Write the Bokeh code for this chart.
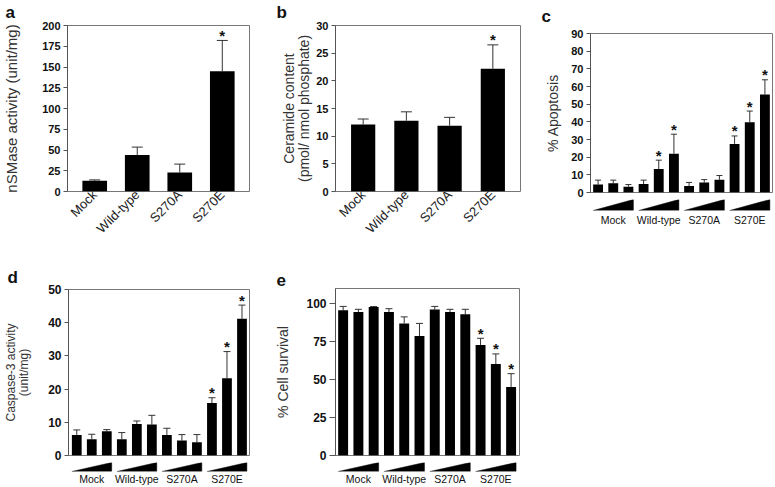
import math
from bokeh.plotting import figure
from bokeh.layouts import row, column
from bokeh.models import (ColumnDataSource, Whisker, TeeHead, FixedTicker, Range1d, FactorRange)
from bokeh.embed import file_html
from bokeh.resources import INLINE
from bokeh.core.properties import value

FONT = "Liberation Sans"

categories = ["Mock", "Wild-type", "S270A", "S270E"]
doses = ["low", "mid", "high"]

# (a) nSMase activity (unit/mg)
nsmase_mean = [13, 44, 23, 145]
nsmase_err = [1, 9.5, 10, 37]
nsmase_sig = [0, 0, 0, 1]

# (b) Ceramide content (pmol/nmol phosphate)
ceramide_mean = [12.1, 12.8, 11.9, 22.2]
ceramide_err = [1.0, 1.6, 1.5, 4.3]
ceramide_sig = [0, 0, 0, 1]

# (c) % Apoptosis, three increasing doses per group
apoptosis_mean = [4.5, 5.2, 3.3, 4.8, 13.3, 22.0, 3.7, 5.6, 7.2, 27.5, 39.8, 55.5]
apoptosis_err = [2.5, 1.8, 1.2, 2.2, 5.0, 11.0, 2.0, 1.7, 2.4, 4.5, 6.3, 8.3]
apoptosis_sig = [0, 0, 0, 0, 1, 1, 0, 0, 0, 1, 1, 1]

# (d) Caspase-3 activity (unit/mg)
caspase_mean = [6.2, 4.9, 7.3, 4.9, 9.5, 9.3, 6.2, 4.5, 4.0, 15.8, 23.3, 41.2]
caspase_err = [1.5, 1.5, 0.5, 2.0, 0.9, 2.8, 2.0, 1.8, 2.3, 1.6, 8.0, 4.1]
caspase_sig = [0, 0, 0, 0, 0, 0, 0, 0, 0, 1, 1, 1]

# (e) % Cell survival
survival_mean = [95.6, 94.5, 97.8, 94.5, 87.0, 78.7, 96.1, 94.5, 93.0, 72.8, 60.2, 45.2]
survival_err = [2.6, 1.8, 0.3, 2.2, 4.3, 8.3, 2.1, 1.8, 3.3, 4.4, 6.7, 8.7]
survival_sig = [0, 0, 0, 0, 0, 0, 0, 0, 0, 1, 1, 1]

ticks_a = [0, 25, 50, 75, 100, 125, 150, 175, 200]
ticks_b = [0, 5, 10, 15, 20, 25, 30]
ticks_c = [0, 10, 20, 30, 40, 50, 60, 70, 80, 90]
ticks_d = [0, 10, 20, 30, 40, 50]
ticks_e = [0, 25, 50, 75, 100]


def style_main(p, yticks, ylabel, label_size, tick_size, label_standoff, tick_out=4):
    p.outline_line_color = "#777777"
    p.outline_line_width = 1
    p.xgrid.visible = False
    p.ygrid.visible = False
    p.background_fill_color = "white"
    p.border_fill_color = "white"
    ax = p.yaxis[0]
    ax.ticker = FixedTicker(ticks=yticks)
    ax.minor_tick_line_color = None
    ax.major_tick_out = tick_out
    ax.major_tick_in = 0
    ax.major_label_standoff = 3
    ax.major_label_text_font = FONT
    ax.major_label_text_font_style = "bold"
    ax.major_label_text_font_size = tick_size
    ax.major_label_text_color = "#111111"
    ax.axis_line_color = "#555555"
    ax.major_tick_line_color = "#555555"
    ax.axis_label = ylabel
    ax.axis_label_text_font = FONT
    ax.axis_label_text_font_style = "normal"
    ax.axis_label_text_font_size = label_size
    ax.axis_label_text_color = "#333333"
    ax.axis_label_standoff = label_standoff
    ax.axis_label_text_line_height = 0.95


def letter(p, text, offset, standoff):
    t = p.title
    t.text = text
    t.text_font = FONT
    t.text_font_size = "17px"
    t.text_font_style = "bold"
    t.text_color = "#111111"
    t.align = "left"
    t.vertical_align = "top"
    t.offset = offset
    t.standoff = standoff


def stars(p, xs, means, errs, sig, size):
    sx = [x for x, s in zip(xs, sig) if s]
    sy = [m + e for m, e, s in zip(means, errs, sig) if s]
    p.text(x=sx, y=sy, text=["*"] * len(sx), text_align="center", text_baseline="alphabetic",
           y_offset=-5, text_font=value(FONT), text_font_style="bold", text_font_size=size,
           text_color="#111111")


def whiskers(p, xs, means, errs, head):
    src = ColumnDataSource(dict(base=xs, lower=means, upper=[m + e for m, e in zip(means, errs)]))
    p.add_layout(Whisker(source=src, base="base", lower="lower", upper="upper", dimension="height",
                         lower_head=None,
                         upper_head=TeeHead(size=head, line_color="#333333", line_width=1),
                         line_color="#333333", line_width=1))


def simple_panel(means, errs, sig, ymax, yticks, ylabel, label_size, label_standoff,
                 width, left, right, bar_w, let, let_off):
    xr = FactorRange(factors=categories, range_padding=0.14, range_padding_units="absolute")
    p = figure(width=width, height=266, x_range=xr, y_range=Range1d(0, ymax),
               toolbar_location=None, output_backend="svg",
               min_border_left=left, min_border_right=right, min_border_top=24,
               min_border_bottom=75)
    p.vbar(x=categories, top=means, width=bar_w, fill_color="black", line_color=None)
    whiskers(p, categories, means, errs, 11)
    stars(p, categories, means, errs, sig, "15px")
    style_main(p, yticks, ylabel, label_size, "11px", label_standoff)
    xa = p.xaxis[0]
    xa.major_label_orientation = math.pi / 4
    xa.major_label_text_font = FONT
    xa.major_label_text_font_size = "13px"
    xa.major_label_text_color = "#222222"
    xa.major_label_standoff = 1
    xa.axis_line_color = None
    xa.major_tick_line_color = None
    xa.minor_tick_line_color = None
    xa.major_tick_out = 0
    xa.major_tick_in = 0
    letter(p, let, let_off, 4)
    return p


def grouped_panel(means, errs, sig, ymax, yticks, ylabel, label_size, tick_size, label_standoff,
                  width, left, right, xr, main_h, top, bottom, wedge_h, wedge_bottom,
                  label_standoff_x, head, let, let_off, let_standoff, tick_out=4):
    n = len(doses)
    xs = [g * n + k for g in range(len(categories)) for k in range(n)]
    x_range = Range1d(*xr)
    p = figure(width=width, height=main_h, x_range=x_range, y_range=Range1d(0, ymax),
               x_axis_location=None, toolbar_location=None, output_backend="svg",
               min_border_left=left, min_border_right=right, min_border_top=top,
               min_border_bottom=bottom)
    p.vbar(x=xs, top=means, width=0.65, fill_color="black", line_color=None)
    whiskers(p, xs, means, errs, head)
    stars(p, xs, means, errs, sig, "15px")
    style_main(p, yticks, ylabel, label_size, tick_size, label_standoff, tick_out)
    letter(p, let, let_off, let_standoff)

    w = figure(width=width, height=wedge_h, x_range=x_range, y_range=Range1d(0, 1),
               y_axis_location=None, toolbar_location=None, output_backend="svg",
               min_border_left=left, min_border_right=right,
               min_border_top=0, min_border_bottom=wedge_bottom)
    w.outline_line_color = None
    w.xgrid.visible = False
    w.ygrid.visible = False
    half = 0.325
    w.patches(xs=[[g * n - half, g * n + n - 1 + half, g * n + n - 1 + half] for g in range(len(categories))],
              ys=[[0, 0, 1] for _ in categories], fill_color="black", line_color="black", line_width=0.5)
    xa = w.xaxis[0]
    centers = [g * n + (n - 1) // 2 for g in range(len(categories))]
    xa.ticker = FixedTicker(ticks=centers)
    xa.major_label_overrides = {c: cat for c, cat in zip(centers, categories)}
    xa.axis_line_color = None
    xa.major_tick_line_color = None
    xa.minor_tick_line_color = None
    xa.major_tick_out = 0
    xa.major_tick_in = 0
    xa.major_label_standoff = label_standoff_x
    xa.major_label_text_font = FONT
    xa.major_label_text_font_size = "10.5px"
    xa.major_label_text_color = "#111111"
    return column(p, w, spacing=0)


pa = simple_panel(nsmase_mean, nsmase_err, nsmase_sig, 200, ticks_a, "nSMase activity (unit/mg)",
                  "15px", 19, 262, 63, 13, 0.58, "a", -62)
pb = simple_panel(ceramide_mean, ceramide_err, ceramide_sig, 30, ticks_b,
                  "Ceramide content\n(pmol/ nmol phosphate)", "14px", 1, 263, 73, 5, 0.56,
                  "b", -59)
pc = grouped_panel(apoptosis_mean, apoptosis_err, apoptosis_sig, 90, ticks_c, "% Apoptosis",
                   "14px", "11px", 7, 250, 65, 3, (-0.5, 11.5), 199, 32, 7, 67, 56, 3, 6,
                   "c", -49, 12)
pd = grouped_panel(caspase_mean, caspase_err, caspase_sig, 50, ticks_d, "Caspase-3 activity\n(unit/mg)",
                   "12px", "12px", 14, 262, 64, 13, (-0.55, 11.5), 196, 22, 7, 25, 15, 1, 7,
                   "d", -61, 2)
pe = grouped_panel(survival_mean, survival_err, survival_sig, 110, ticks_e, "% Cell survival",
                   "14px", "12px", 12, 263, 73, 6, (-0.5, 11.55), 196, 22, 7, 25, 15, 1, 7,
                   "e", -59, 2, tick_out=6)

layout = column(row(pa, pb, pc, spacing=0), row(pd, pe, spacing=0), spacing=0)

open("out.html", "w").write(file_html(layout, INLINE))
